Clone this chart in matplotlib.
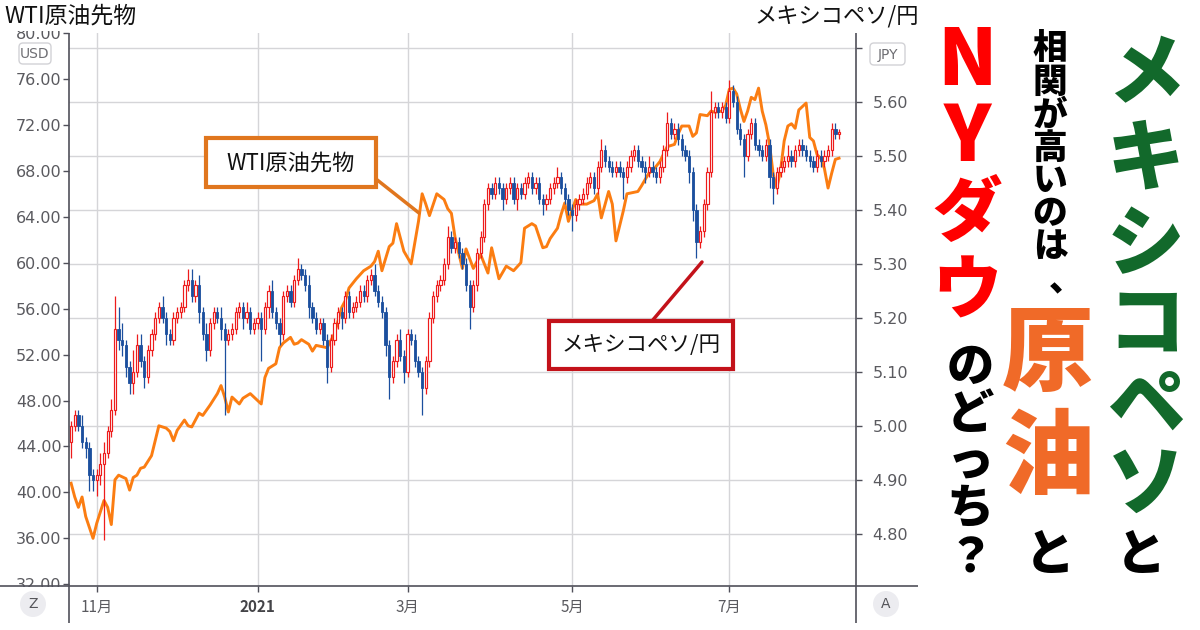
import numpy as np
import pandas as pd
import matplotlib
matplotlib.use('Agg')
import matplotlib.pyplot as plt
from matplotlib.patches import Rectangle, FancyBboxPatch, Circle

plt.rcParams['font.family'] = ['Noto Sans CJK JP', 'DejaVu Sans']

# ---------------- data ----------------
START_DATE = '2020-10-22'          # first trading day shown
MXNJPY_OPEN0 = 4.97                # open of the first candle
MXNJPY_CLOSE = [
    5.00, 5.02, 5.00, 4.97, 4.96, 4.91, 4.90, 4.91, 4.93, 4.95,
    4.99, 5.03, 5.18, 5.16, 5.15, 5.11, 5.08, 5.10, 5.15, 5.12,
    5.09, 5.14, 5.17, 5.20, 5.22, 5.20, 5.17, 5.16, 5.20, 5.21,
    5.22, 5.26, 5.27, 5.24, 5.26, 5.21, 5.17, 5.14, 5.19, 5.21,
    5.20, 5.18, 5.16, 5.17, 5.18, 5.21, 5.22, 5.20, 5.21, 5.18,
    5.19, 5.20, 5.18, 5.22, 5.25, 5.21, 5.19, 5.17, 5.24, 5.25,
    5.23, 5.27, 5.29, 5.28, 5.26, 5.22, 5.20, 5.18, 5.19, 5.16,
    5.11, 5.16, 5.19, 5.21, 5.20, 5.24, 5.21, 5.22, 5.23, 5.25,
    5.24, 5.27, 5.28, 5.25, 5.23, 5.21, 5.15, 5.09, 5.12, 5.16,
    5.13, 5.10, 5.17, 5.16, 5.12, 5.10, 5.07, 5.12, 5.20, 5.24,
    5.26, 5.27, 5.30, 5.35, 5.33, 5.34, 5.32, 5.30, 5.26, 5.22,
    5.26, 5.32, 5.35, 5.41, 5.44, 5.43, 5.45, 5.44, 5.42, 5.44,
    5.45, 5.42, 5.44, 5.43, 5.45, 5.46, 5.44, 5.45, 5.42, 5.41,
    5.42, 5.44, 5.45, 5.46, 5.44, 5.42, 5.40, 5.39, 5.41, 5.42,
    5.43, 5.45, 5.46, 5.44, 5.48, 5.51, 5.49, 5.48, 5.47, 5.48,
    5.47, 5.46, 5.48, 5.50, 5.51, 5.49, 5.48, 5.47, 5.48, 5.47,
    5.46, 5.48, 5.51, 5.56, 5.54, 5.55, 5.53, 5.51, 5.50, 5.47,
    5.40, 5.34, 5.36, 5.41, 5.47, 5.58, 5.59, 5.58, 5.59, 5.57,
    5.62, 5.60, 5.55, 5.53, 5.50, 5.54, 5.56, 5.52, 5.51, 5.50,
    5.52, 5.46, 5.44, 5.47, 5.48, 5.49, 5.50, 5.49, 5.51, 5.52,
    5.51, 5.50, 5.49, 5.48, 5.50, 5.49, 5.50, 5.51, 5.55, 5.54,
    5.54,
]
# wick lengths above / below the candle body, in 0.01 yen
WICK_UP = [
    1, 1, 1, 2, 1, 1, 1, 1, 2, 2,
    1, 2, 6, 4, 3, 1, 1, 4, 2, 2,
    1, 1, 1, 1, 1, 2, 1, 1, 1, 1,
    1, 1, 2, 2, 1, 2, 1, 2, 1, 1,
    1, 2, 1, 1, 1, 1, 1, 1, 2, 1,
    1, 1, 1, 1, 1, 2, 1, 1, 1, 1,
    1, 1, 2, 1, 1, 2, 1, 1, 1, 1,
    1, 1, 1, 1, 1, 1, 1, 1, 1, 1,
    1, 1, 1, 2, 1, 1, 1, 1, 1, 1,
    2, 1, 1, 1, 1, 1, 1, 1, 1, 1,
    1, 1, 1, 2, 1, 1, 1, 1, 1, 1,
    1, 1, 1, 1, 1, 1, 1, 1, 1, 1,
    1, 1, 1, 1, 1, 1, 1, 1, 1, 1,
    1, 1, 1, 2, 1, 1, 1, 1, 1, 1,
    1, 1, 1, 1, 1, 2, 1, 1, 1, 1,
    1, 1, 1, 1, 1, 1, 1, 1, 2, 1,
    1, 1, 1, 2, 1, 1, 1, 1, 1, 1,
    1, 1, 1, 1, 1, 4, 1, 1, 1, 1,
    2, 1, 1, 1, 1, 1, 1, 1, 1, 1,
    1, 1, 1, 1, 1, 1, 2, 1, 1, 1,
    1, 1, 1, 1, 1, 1, 1, 1, 1, 1,
    1,
]
WICK_DN = [
    3, 1, 1, 1, 2, 3, 2, 3, 2, 14,
    1, 1, 1, 2, 2, 2, 2, 2, 1, 1,
    2, 1, 1, 1, 1, 1, 2, 1, 1, 1,
    1, 1, 1, 1, 1, 2, 1, 2, 1, 1,
    1, 2, 14, 1, 1, 1, 1, 2, 1, 1,
    1, 1, 6, 1, 2, 1, 1, 2, 1, 1,
    1, 1, 1, 1, 1, 2, 1, 1, 1, 1,
    3, 1, 1, 1, 2, 1, 1, 1, 1, 1,
    1, 1, 1, 1, 1, 1, 2, 4, 1, 1,
    1, 2, 1, 1, 1, 1, 5, 1, 1, 1,
    1, 1, 1, 1, 1, 1, 1, 1, 1, 4,
    1, 1, 1, 1, 1, 1, 1, 1, 2, 1,
    1, 1, 2, 1, 1, 1, 1, 1, 1, 2,
    1, 1, 1, 1, 1, 1, 1, 3, 1, 1,
    1, 1, 1, 1, 1, 1, 1, 1, 1, 1,
    1, 4, 1, 1, 1, 1, 1, 2, 1, 1,
    1, 1, 1, 1, 1, 1, 1, 1, 1, 2,
    2, 3, 1, 1, 1, 1, 1, 1, 1, 1,
    1, 1, 1, 1, 4, 1, 1, 1, 1, 1,
    1, 2, 3, 1, 1, 1, 1, 1, 1, 1,
    1, 1, 1, 1, 1, 1, 1, 1, 1, 1,
    1,
]
# WTI crude futures (USD) on trading-day number (0 = 2020-10-22)
WTI_DAY = [0, 1, 2, 3, 4, 6, 7, 9, 10, 11, 12, 13, 15, 16, 17, 18, 19, 20, 22, 24,
           26, 27, 28, 29, 31, 32, 33, 35, 36, 38, 40, 41, 42, 43, 44, 46, 47, 49, 52, 53,
           54, 56, 57, 58, 60, 61, 62, 63, 65, 66, 67, 70, 72, 74, 75, 76, 78, 80, 82, 83,
           84, 85, 87, 88, 89, 91, 93, 95, 96, 97, 98, 100, 102, 103, 104, 105, 107, 108, 110, 112,
           114, 115, 117, 119, 121, 123, 124, 126, 127, 129, 130, 131, 133, 134, 135, 136, 138, 139, 141, 143,
           144, 145, 147, 148, 149, 151, 152, 155, 156, 158, 159, 161, 163, 165, 166, 167, 169, 170, 171, 172,
           174, 175, 176, 178, 179, 180, 181, 182, 183, 184, 185, 186, 187, 188, 189, 190, 191, 192, 193, 194,
           195, 196, 197, 198, 199, 201, 202, 203, 204, 205, 206, 207, 208, 209, 210]
WTI_USD = [40.8, 39.6, 38.7, 39.6, 37.9, 36.0, 37.3, 39.3, 38.7, 37.2, 41.1, 41.5, 41.2, 40.2, 41.3, 41.5, 42.1, 42.2, 43.2, 45.8,
           45.6, 45.3, 44.5, 45.4, 46.3, 45.8, 45.7, 46.9, 46.7, 47.6, 48.6, 49.3, 48.3, 47.0, 48.3, 47.7, 48.2, 48.6, 47.7, 50.0,
           50.8, 51.2, 52.6, 53.0, 53.5, 52.9, 53.0, 53.3, 52.9, 52.3, 52.8, 52.6, 53.8, 56.1, 56.7, 57.8, 58.6, 59.3, 59.7, 60.1,
           61.0, 59.3, 61.4, 61.7, 63.4, 61.0, 59.9, 63.6, 66.0, 65.1, 64.1, 66.0, 65.5, 64.7, 64.3, 62.2, 59.5, 61.2, 59.5, 60.7,
           59.1, 61.3, 58.6, 59.7, 59.3, 60.0, 63.0, 63.4, 63.2, 61.3, 61.4, 62.1, 63.0, 64.2, 65.2, 63.6, 65.5, 65.1, 65.1, 65.4,
           66.0, 63.9, 66.2, 65.1, 61.9, 64.5, 66.0, 66.2, 66.7, 67.8, 68.0, 68.8, 70.1, 70.3, 71.2, 71.9, 71.9, 71.0, 71.3, 72.9,
           72.8, 73.2, 73.1, 73.2, 73.7, 75.1, 75.2, 74.7, 73.4, 72.3, 73.2, 74.4, 74.2, 75.2, 73.2, 72.0, 70.3, 67.7, 66.5, 68.0,
           70.6, 71.9, 72.1, 71.7, 73.3, 73.9, 70.9, 70.6, 69.4, 69.1, 68.2, 66.5, 67.8, 69.0, 69.1]

X_MONTHS = ['2020-11', '2021-01', '2021-03', '2021-05', '2021-07']
X_LABELS = ['11月', '2021', '3月', '5月', '7月']
WTI_TICKS = [32, 36, 40, 44, 48, 52, 56, 60, 64, 68, 72, 76, 80]
JPY_TICKS = [4.8, 4.9, 5.0, 5.1, 5.2, 5.3, 5.4, 5.5, 5.6, 5.7]

TITLE_LEFT = 'WTI原油先物'
TITLE_RIGHT = 'メキシコペソ/円'
HEAD_COL1 = 'メキシコペソ'
HEAD_COL2A = '相関が高いのは、'
HEAD_COL2B = '原油'
HEAD_COL3A = 'NYダウ'
HEAD_COL3B = 'のどっち？'
HEAD_TO = 'と'

# ---------------- colours ----------------
RED = '#EE1C1C'
BLUE = '#1B4F9E'
ORANGE = '#FB7D12'
BOX_OR = '#E0761E'
BOX_RED = '#C3121A'
AXC = '#50505A'
GRID = '#D5D5D8'
TICKC = '#5A5A5F'

# ---------------- figure ----------------
W, H = 1200, 630
fig = plt.figure(figsize=(W / 100, H / 100), dpi=100)
fig.patch.set_facecolor('white')
L, R, T, B = 69.3, 855.7, 33, 586
ax_w = fig.add_axes([L / W, 1 - B / H, (R - L) / W, (B - T) / H])
ax_j = ax_w.twinx()
ax_w.set_zorder(1)
ax_j.set_zorder(2)

close = np.array(MXNJPY_CLOSE)
open_ = np.concatenate([[MXNJPY_OPEN0], close[:-1]])
high = np.maximum(open_, close) + np.array(WICK_UP) / 100.0
low = np.minimum(open_, close) - np.array(WICK_DN) / 100.0
n = len(close)
dates = pd.bdate_range(START_DATE, periods=n)
xs = np.arange(n)
months = dates.strftime('%Y-%m')
tick_pos = [int(np.argmax(months == m)) for m in X_MONTHS]

# grid (on the JPY axis)
ax_j.set_axisbelow(True)
ax_j.yaxis.grid(True, color=GRID, lw=1.0)
for p in tick_pos:
    ax_j.axvline(p, color=GRID, lw=1.0, zorder=0.5)

# WTI line (in USD coordinates, drawn beneath the candles)
ax_j.plot(WTI_DAY, WTI_USD, transform=ax_w.transData, color=ORANGE, lw=2.1,
          zorder=1.5, solid_joinstyle='round')

# candles
up = close >= open_
dn = ~up
ax_j.vlines(xs[up], low[up], high[up], color=RED, lw=0.9, zorder=2)
ax_j.vlines(xs[dn], low[dn], high[dn], color=BLUE, lw=0.9, zorder=2)
body_lo = np.minimum(open_, close)
body_h = np.maximum(np.abs(close - open_), 0.003)
ax_j.bar(xs[up], body_h[up], bottom=body_lo[up], width=0.62, facecolor='white',
         edgecolor=RED, lw=0.85, zorder=3)
ax_j.bar(xs[dn], body_h[dn], bottom=body_lo[dn], width=0.62, facecolor=BLUE,
         edgecolor=BLUE, lw=0.6, zorder=3)

# limits
ax_w.set_xlim(-0.49, 214.56)
ax_w.set_ylim(31.85, 80.0)
ax_j.set_ylim(4.704, 5.727)

for a in (ax_w, ax_j):
    for s in a.spines.values():
        s.set_visible(False)

ax_w.set_yticks(WTI_TICKS)
ax_w.set_yticklabels([f'{v:.2f}' for v in WTI_TICKS])
ax_w.tick_params(axis='y', direction='out', length=4, width=1, color=AXC, pad=1.5,
                 labelsize=11.5, labelcolor=TICKC)
ax_j.set_yticks(JPY_TICKS)
ax_j.set_yticklabels([f'{v:.2f}' if v < 5.65 else '' for v in JPY_TICKS])
ax_j.tick_params(axis='y', direction='out', length=4, width=1, color=AXC, pad=8,
                 labelsize=11.5, labelcolor=TICKC)
for lbl in ax_w.get_yticklabels() + ax_j.get_yticklabels():
    lbl.set_fontfamily('DejaVu Sans')

ax_w.set_xticks(tick_pos)
ax_w.set_xticklabels(X_LABELS)
ax_w.tick_params(axis='x', direction='out', length=4, width=1, color=AXC, pad=5,
                 labelsize=11, labelcolor=TICKC)
ax_w.get_xticklabels()[1].set_fontweight('bold')
ax_w.get_xticklabels()[1].set_color('#444448')

# ---------------- overlay in pixel coordinates ----------------
ov = fig.add_axes([0, 0, 1, 1], zorder=10)
ov.set_xlim(0, W)
ov.set_ylim(H, 0)
ov.axis('off')
ov.patch.set_visible(False)

# axis frame lines
ov.plot([L, L], [T, 623], color=AXC, lw=1.2, solid_capstyle='butt', zorder=2)
ov.plot([R, R], [T, 623], color=AXC, lw=1.2, solid_capstyle='butt', zorder=2)
ov.plot([0, 918], [B, B], color=AXC, lw=1.2, solid_capstyle='butt', zorder=2)

# hide parts of edge labels, as in the source
ov.add_patch(Rectangle((0, 0), 66, 31, fc='white', ec='none', zorder=1))
ov.add_patch(Rectangle((0, B + 1), 66, 44, fc='white', ec='none', zorder=1))

# axis titles
ov.text(4, 16, TITLE_LEFT, ha='left', va='center', fontsize=16.5, color='#111111', zorder=3)
ov.text(919, 16, TITLE_RIGHT, ha='right', va='center', fontsize=16, color='#111111', zorder=3)

# currency badges
ov.add_patch(FancyBboxPatch((19, 43), 32, 21, boxstyle='round,pad=0,rounding_size=4',
                            fc='white', ec='#D2D2D6', lw=1, zorder=3))
ov.text(35, 54, 'USD', ha='center', va='center', fontsize=10, color='#6E6E73',
        family='DejaVu Sans', zorder=4)
ov.add_patch(FancyBboxPatch((870, 43), 35, 22, boxstyle='round,pad=0,rounding_size=4',
                            fc='white', ec='#D2D2D6', lw=1, zorder=3))
ov.text(887.5, 54.5, 'JPY', ha='center', va='center', fontsize=10, color='#6E6E73',
        family='DejaVu Sans', zorder=4)

# Z / A buttons
for cx, ch in ((33, 'Z'), (886, 'A')):
    ov.add_patch(Circle((cx, 604), 13, fc='#ECECF0', ec='none', zorder=3))
    ov.text(cx, 604.5, ch, ha='center', va='center', fontsize=10, color='#55555A',
            family='DejaVu Sans', zorder=4)

# annotation boxes
ov.add_patch(Rectangle((206, 138), 170, 49, fc='white', ec=BOX_OR, lw=3, zorder=3))
ov.text(291, 163, TITLE_LEFT, ha='center', va='center', fontsize=16, color='#111111', zorder=4)
ov.plot([376, 419], [179, 213], color=BOX_OR, lw=2.5, solid_capstyle='round', zorder=3)

ov.add_patch(Rectangle((549, 321), 184, 48, fc='white', ec=BOX_RED, lw=3, zorder=3))
ov.text(641, 345, TITLE_RIGHT, ha='center', va='center', fontsize=15.5, color='#111111', zorder=4)
ov.plot([652, 702], [321, 262], color=BOX_RED, lw=2.5, solid_capstyle='round', zorder=3)

# ---------------- vertical headline ----------------
GREEN = '#12692B'
HORANGE = '#F06A28'
HRED = '#FF0000'
BLACK = '#000000'


def vchar(ch, x, y, size, color):
    ov.text(x, y, ch, ha='center', va='center', fontsize=size, color=color,
            fontweight='black', zorder=5)


for ch, y in zip(HEAD_COL1, [75, 160, 246, 326, 408, 486]):
    vchar(ch, 1146, y, 56, GREEN)
vchar(HEAD_TO, 1141, 555, 36, BLACK)

for ch, y in zip(HEAD_COL2A[:-1], [49, 82, 115, 148, 181, 214, 246]):
    vchar(ch, 1050, y, 25, BLACK)
vchar(HEAD_COL2A[-1], 1066, 281, 25, BLACK)
for ch, y in zip(HEAD_COL2B, [355, 458]):
    vchar(ch, 1048, y, 66, HORANGE)
vchar(HEAD_TO, 1050, 555, 36, BLACK)

for ch, y, s in zip(HEAD_COL3A, [62, 138, 214, 293], [56, 56, 50, 50]):
    vchar(ch, 967, y, s, HRED)
for ch, y in zip(HEAD_COL3B, [367, 415, 462, 508, 558]):
    vchar(ch, 970, y, 34, BLACK)

fig.savefig('out.png', dpi=100, facecolor='white')
